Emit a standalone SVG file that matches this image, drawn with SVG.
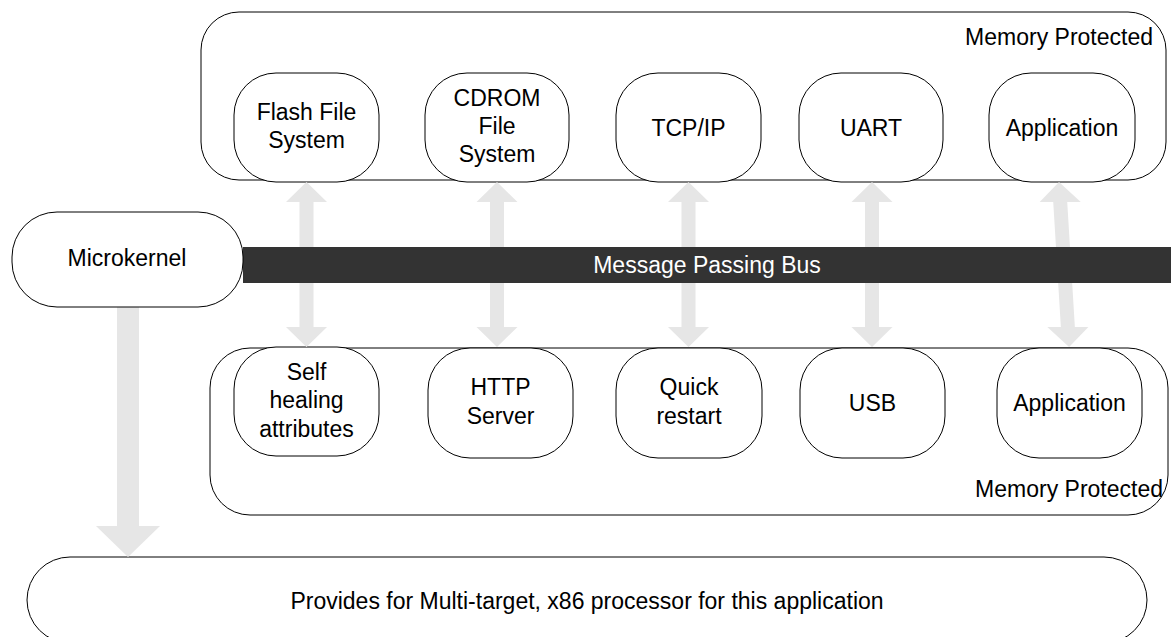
<svg xmlns="http://www.w3.org/2000/svg" xmlns:xlink="http://www.w3.org/1999/xlink" width="1171" height="637" viewBox="0 0 1171 637">
  <style>
    .box { fill: #ffffff; stroke: #000000; stroke-width: 1; }
    .lbl { font-family: "Liberation Sans", Arial, sans-serif; font-size: 23px; fill: #000000; text-anchor: middle; }
    .end { text-anchor: end; }
    .bus-lbl { fill: #ffffff; }
    .flow { fill: #e6e6e6; }
  </style>
  <defs>
    <!-- two-headed arrow spanning the 165px gap between the rows of nodes -->
    <path id="dbl" d="M0,0 L20.5,20 L7,20 L7,145 L20.5,145 L0,165 L-20.5,145 L-7,145 L-7,20 L-20.5,20 Z"/>
  </defs>

  <!-- containers -->
  <g id="top-region">
    <rect class="box" x="201" y="12" width="965" height="168" rx="38" ry="38"/>
    <text class="lbl end" x="1153" y="45">Memory Protected</text>
  </g>
  <g id="bottom-region">
    <rect class="box" x="210" y="348" width="958" height="167" rx="40" ry="40"/>
    <text class="lbl end" x="1163" y="497">Memory Protected</text>
  </g>

  <!-- top row -->
  <g id="flash-fs">
    <rect class="box" x="234" y="73" width="145" height="109" rx="42" ry="42"/>
    <text class="lbl" x="306.5" y="120">Flash File</text>
    <text class="lbl" x="306.5" y="148">System</text>
  </g>
  <g id="cdrom-fs">
    <rect class="box" x="425" y="73" width="144" height="109" rx="42" ry="42"/>
    <text class="lbl" x="497" y="106">CDROM</text>
    <text class="lbl" x="497" y="134">File</text>
    <text class="lbl" x="497" y="162">System</text>
  </g>
  <g id="tcpip">
    <rect class="box" x="616" y="73" width="145" height="109" rx="42" ry="42"/>
    <text class="lbl" x="688.5" y="135.5">TCP/IP</text>
  </g>
  <g id="uart">
    <rect class="box" x="799" y="73" width="144" height="109" rx="42" ry="42"/>
    <text class="lbl" x="871" y="135.5">UART</text>
  </g>
  <g id="app-top">
    <rect class="box" x="989" y="73" width="146" height="109" rx="42" ry="42"/>
    <text class="lbl" x="1062" y="135.5">Application</text>
  </g>

  <!-- bottom row -->
  <g id="self-healing">
    <rect class="box" x="234" y="347" width="145" height="109" rx="42" ry="42"/>
    <text class="lbl" x="306.5" y="380">Self</text>
    <text class="lbl" x="306.5" y="408">healing</text>
    <text class="lbl" x="306.5" y="436.5">attributes</text>
  </g>
  <g id="http-server">
    <rect class="box" x="428" y="348" width="145" height="110" rx="42" ry="42"/>
    <text class="lbl" x="500.5" y="395">HTTP</text>
    <text class="lbl" x="500.5" y="424">Server</text>
  </g>
  <g id="quick-restart">
    <rect class="box" x="616" y="348" width="146" height="110" rx="42" ry="42"/>
    <text class="lbl" x="689" y="395">Quick</text>
    <text class="lbl" x="689" y="424">restart</text>
  </g>
  <g id="usb">
    <rect class="box" x="800" y="348" width="145" height="110" rx="42" ry="42"/>
    <text class="lbl" x="872.5" y="410.5">USB</text>
  </g>
  <g id="app-bottom">
    <rect class="box" x="997" y="348" width="145" height="110" rx="42" ry="42"/>
    <text class="lbl" x="1069.5" y="410.5">Application</text>
  </g>

  <!-- platform -->
  <g id="platform">
    <rect class="box" x="27" y="557" width="1120" height="86" rx="43" ry="43"/>
    <text class="lbl" x="587" y="609">Provides for Multi-target, x86 processor for this application</text>
  </g>

  <!-- connectors -->
  <g id="connectors">
    <use xlink:href="#dbl" class="flow" transform="translate(306.5,182)"/>
    <use xlink:href="#dbl" class="flow" transform="translate(497,182)"/>
    <use xlink:href="#dbl" class="flow" transform="translate(688.5,182)"/>
    <use xlink:href="#dbl" class="flow" transform="translate(872,182)"/>
    <use xlink:href="#dbl" class="flow" transform="translate(1059,182) skewX(3.5)"/>
    <path class="flow" d="M117,307 L139,307 L139,526 L160,526 L128,557 L96,526 L117,526 Z"/>
  </g>

  <!-- message bus -->
  <g id="bus">
    <rect x="243" y="247" width="928" height="36" fill="#333333"/>
    <text class="lbl bus-lbl" x="707" y="273">Message Passing Bus</text>
  </g>

  <g id="microkernel">
    <rect class="box" x="12" y="212" width="231" height="95" rx="45" ry="45"/>
    <text class="lbl" x="127" y="266">Microkernel</text>
  </g>
</svg>
